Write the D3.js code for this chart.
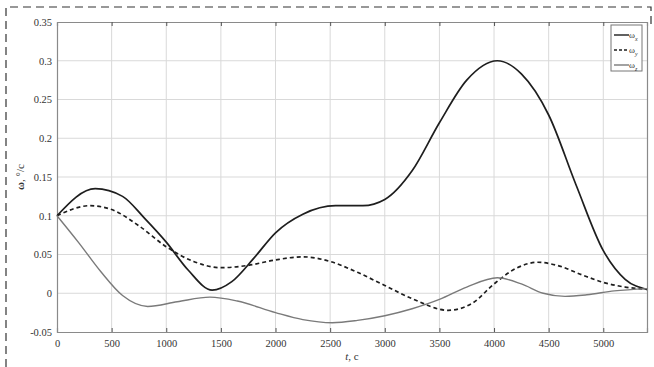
<!DOCTYPE html>
<html>
<head>
<meta charset="utf-8">
<script src="https://cdn.jsdelivr.net/npm/d3@7"></script>
<style>
  html, body { margin: 0; padding: 0; background: #fff; }
  svg { display: block; }
  text { font-family: "Liberation Serif", "DejaVu Serif", serif; fill: #333; }
</style>
</head>
<body>
<svg id="chart" width="654" height="367"></svg>
<script>
// ωx: time (s) and angular rate (deg/s)
const tX = [0, 350, 600, 800, 1000, 1200, 1420, 1600, 1800, 2000, 2250, 2550, 2800, 3000, 3250, 3500, 3750, 4030, 4250, 4500, 4750, 5000, 5200, 5400];
const omegaX = [0.100, 0.135, 0.125, 0.097, 0.066, 0.030, 0.004, 0.015, 0.045, 0.078, 0.102, 0.113, 0.113, 0.121, 0.158, 0.220, 0.275, 0.300, 0.283, 0.230, 0.140, 0.055, 0.018, 0.005];
// ωy
const tY = [0, 300, 500, 750, 1000, 1250, 1500, 1750, 2000, 2250, 2500, 2750, 3000, 3250, 3580, 3800, 4000, 4200, 4400, 4600, 4800, 5000, 5200, 5400];
const omegaY = [0.100, 0.113, 0.108, 0.087, 0.060, 0.041, 0.033, 0.036, 0.043, 0.047, 0.041, 0.027, 0.010, -0.007, -0.022, -0.013, 0.012, 0.032, 0.040, 0.035, 0.024, 0.014, 0.008, 0.005];
// ωz
const tZ = [0, 200, 400, 600, 830, 1100, 1400, 1650, 2000, 2250, 2520, 2750, 3000, 3250, 3500, 3750, 4030, 4250, 4450, 4650, 4850, 5100, 5400];
const omegaZ = [0.100, 0.065, 0.028, -0.003, -0.017, -0.011, -0.005, -0.010, -0.025, -0.034, -0.038, -0.035, -0.029, -0.020, -0.008, 0.008, 0.020, 0.012, 0.000, -0.004, -0.002, 0.003, 0.006];

const xTicks = [0, 500, 1000, 1500, 2000, 2500, 3000, 3500, 4000, 4500, 5000];
const yTicks = [-0.05, 0, 0.05, 0.1, 0.15, 0.2, 0.25, 0.3, 0.35];
const seriesNames = ["x", "y", "z"];

const svg = d3.select("#chart");
const plotL = 57, plotR = 647, plotT = 22, plotB = 332;

const x = d3.scaleLinear().domain([0, 5400]).range([plotL, plotR]);
const y = d3.scaleLinear().domain([-0.05, 0.35]).range([plotB, plotT]);

// Outer dashed frame
svg.append("path")
  .attr("d", `M6,367 L6,7 L651,7 L651,28`)
  .attr("fill", "none").attr("stroke", "#333").attr("stroke-width", 1.2)
  .attr("stroke-dasharray", "8,5");

// Grid
const grid = svg.append("g");
grid.selectAll("line.gx").data(xTicks.slice(1)).join("line")
  .attr("x1", d => x(d)).attr("x2", d => x(d)).attr("y1", plotT).attr("y2", plotB)
  .attr("stroke", "#d9d9d9").attr("stroke-width", 1);
grid.selectAll("line.gy").data(yTicks.slice(1, -1)).join("line")
  .attr("x1", plotL).attr("x2", plotR).attr("y1", d => y(d)).attr("y2", d => y(d))
  .attr("stroke", "#d9d9d9").attr("stroke-width", 1);

// Axes (ticks inward, box around plot)
const fmtY = d => (d === 0 ? "0" : String(+d.toFixed(2)));
const axB = svg.append("g").attr("transform", `translate(0,${plotB})`)
  .call(d3.axisBottom(x).tickValues(xTicks).tickSize(-4).tickPadding(8).tickFormat(d3.format("")));
const axT = svg.append("g").attr("transform", `translate(0,${plotT})`)
  .call(d3.axisTop(x).tickValues(xTicks).tickSize(-4).tickFormat(""));
const axL = svg.append("g").attr("transform", `translate(${plotL},0)`)
  .call(d3.axisLeft(y).tickValues(yTicks).tickSize(0).tickPadding(5).tickFormat(fmtY));
const axR = svg.append("g").attr("transform", `translate(${plotR},0)`)
  .call(d3.axisRight(y).tickValues(yTicks).tickSize(0).tickFormat(""));
[axB, axT, axL, axR].forEach(a => {
  a.attr("font-family", "Liberation Serif");
  a.select(".domain").attr("stroke", "#8a8a8a").attr("stroke-width", 1.2);
  a.selectAll(".tick line").attr("stroke", "#555");
  a.selectAll(".tick text").attr("font-size", 10.5).attr("fill", "#2a2a2a");
});
axB.selectAll(".tick line").filter(d => d === 0).remove();
axT.selectAll(".tick line").filter(d => d === 0).remove();

// Curves
const styles = [
  { t: tX, data: omegaX, stroke: "#1e1e1e", width: 1.7, dash: null },
  { t: tY, data: omegaY, stroke: "#1e1e1e", width: 1.7, dash: "4,3" },
  { t: tZ, data: omegaZ, stroke: "#7a7a7a", width: 1.4, dash: null }
];
const lineFor = s => d3.line()
  .x((d, i) => x(s.t[i]))
  .y(d => y(d))
  .curve(d3.curveMonotoneX)(s.data);

svg.append("g").selectAll("path").data(styles).join("path")
  .attr("d", lineFor)
  .attr("fill", "none")
  .attr("stroke", s => s.stroke)
  .attr("stroke-width", s => s.width)
  .attr("stroke-dasharray", s => s.dash);

// Legend
const lg = svg.append("g");
lg.append("rect").attr("x", 611).attr("y", 25).attr("width", 31).attr("height", 46)
  .attr("fill", "#fff").attr("stroke", "#777").attr("stroke-width", 1);
styles.forEach((s, i) => {
  const ly = 35 + i * 15;
  lg.append("line").attr("x1", 614).attr("x2", 629).attr("y1", ly).attr("y2", ly)
    .attr("stroke", s.stroke).attr("stroke-width", 1.4).attr("stroke-dasharray", s.dash ? "3,2" : null);
  const t = lg.append("text").attr("x", 629).attr("y", ly + 3).attr("font-size", 9);
  t.append("tspan").text("ω");
  t.append("tspan").attr("font-size", 6).attr("dy", 3).attr("font-style", "italic").text(seriesNames[i]);
});

// Axis titles
const xl = svg.append("text").attr("x", 352).attr("y", 360).attr("text-anchor", "middle").attr("font-size", 11);
xl.append("tspan").attr("font-style", "italic").text("t");
xl.append("tspan").text(", с");

const yl = svg.append("text").attr("transform", `translate(24,${y(0.15)}) rotate(-90)`)
  .attr("text-anchor", "middle").attr("font-size", 11);
yl.append("tspan").attr("font-weight", "bold").text("ω");
yl.append("tspan").text(", °/с");
</script>
</body>
</html>
